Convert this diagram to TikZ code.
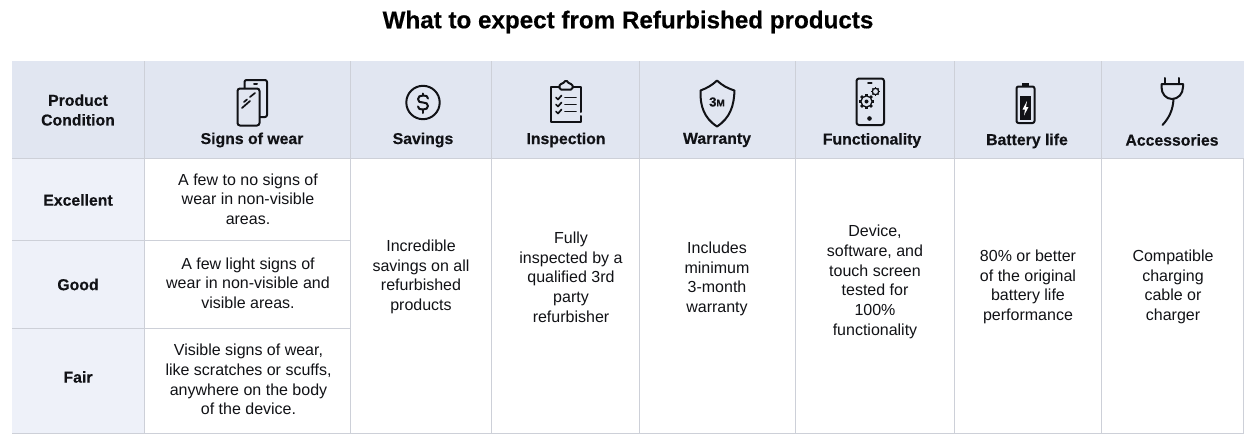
\documentclass[tikz,border=0pt]{standalone}
\usepackage{fontspec}
\setmainfont{Liberation Sans}[BoldFeatures={FakeBold=0.4}]
\usetikzlibrary{arrows.meta}
\definecolor{headblue}{HTML}{E1E6F1}
\definecolor{sideblue}{HTML}{EEF1F9}
\definecolor{gridgray}{HTML}{CDD0D8}
\definecolor{inkblack}{HTML}{111216}
\tikzset{
  gridline/.style={draw=gridgray, line width=1.2pt},
  iconline/.style={draw=inkblack, line width=2pt, line join=round, line cap=round},
  bodytext/.style={align=center, text=inkblack, font=\fontsize{16}{19.7}\selectfont, inner sep=0pt},
  headtext/.style={align=center, text=inkblack, font=\fontsize{15.8}{19.7}\selectfont\bfseries, inner sep=0pt},
  titletext/.style={align=center, text=black, font=\fontsize{24.2}{28}\selectfont\bfseries, inner sep=0pt}
}
\newcommand{\gearicon}[3]{% x, y, radius
  \foreach \a in {0,45,...,315} {
    \draw[inkblack, line width=#3*0.4pt] (#1,#2) ++(\a:#3*0.8) -- ++(\a:#3*0.3);
  }
  \draw[iconline, line width=1.3pt, fill=headblue] (#1,#2) circle (#3*0.8);
}
\begin{document}
\begin{tikzpicture}[x=1pt,y=-1pt]
\useasboundingbox (0,0) rectangle (1256,439);
\fill[white] (0,0) rectangle (1256,439);

\node[titletext] (title) at (628,22) {What to expect from Refurbished products};

% backgrounds
\fill[headblue] (12,61) rectangle (1244,158.5);
\fill[sideblue] (12,158.5) rectangle (144.5,433);

% grid
\draw[gridline] (12,158.5) -- (1244,158.5);
\draw[gridline] (12,240.5) -- (350.5,240.5);
\draw[gridline] (12,328.5) -- (350.5,328.5);
\draw[gridline] (12,433.5) -- (1244,433.5);
\draw[gridline] (144.5,61) -- (144.5,433.5);
\draw[gridline] (350.5,61) -- (350.5,433.5);
\draw[gridline] (491.5,61) -- (491.5,433.5);
\draw[gridline] (639.5,61) -- (639.5,433.5);
\draw[gridline] (795.5,61) -- (795.5,433.5);
\draw[gridline] (954.5,61) -- (954.5,433.5);
\draw[gridline] (1101.5,61) -- (1101.5,433.5);
\draw[gridline] (1243.5,158.5) -- (1243.5,433.5);

% header row
\node[headtext] (condition) at (78,110) {Product\\Condition};
\node[headtext] (wear) at (252,140) {Signs of wear};
\node[headtext] (savings) at (423,140) {Savings};
\node[headtext] (inspection) at (566,140) {Inspection};
\node[headtext] (warranty) at (717,140) {Warranty};
\node[headtext] (functionality) at (872,140.5) {Functionality};
\node[headtext] (battery) at (1027,141) {Battery life};
\node[headtext] (accessories) at (1172,140) {Accessories};

% side column
\node[headtext] (excellent) at (78,200) {Excellent};
\node[headtext] (good) at (78,284.5) {Good};
\node[headtext] (fair) at (78,377) {Fair};

% cells
\node[bodytext] (wearA) at (248,199) {A few to no signs of\\wear in non-visible\\areas.};
\node[bodytext] (wearB) at (248,283) {A few light signs of\\wear in non-visible and\\visible areas.};
\node[bodytext] (wearC) at (248.5,379.5) {Visible signs of wear,\\like scratches or scuffs,\\anywhere on the body\\of the device.};
\node[bodytext] (savingsText) at (421,277) {Incredible\\savings on all\\refurbished\\products};
\node[bodytext] (inspectionText) at (571,277) {Fully\\inspected by a\\qualified 3rd\\party\\refurbisher};
\node[bodytext] (warrantyText) at (717,279) {Includes\\minimum\\3-month\\warranty};
\node[bodytext] (functionalityText) at (875,282) {Device,\\software, and\\touch screen\\tested for\\100\%\\functionality};
\node[bodytext] (batteryText) at (1028,287) {80\% or better\\of the original\\battery life\\performance};
\node[bodytext] (accessoriesText) at (1173,287) {Compatible\\charging\\cable or\\charger};

% phones
\draw[iconline, rounded corners=2pt] (244.5,88) -- (244.5,80) -- (267,80) -- (267,117) -- (260,117);
\draw[iconline] (254,84) -- (257,84);
\draw[iconline, rounded corners=2.5pt] (237.5,88.5) rectangle (259.5,125.5);
\draw[iconline, line width=1.7pt] (250,97) -- (255,93);
\draw[iconline, line width=1.7pt] (244,102) -- (247,99.5);
\draw[iconline, line width=1.7pt] (242,108) -- (250,101);

% dollar
\draw[iconline] (423,102.5) circle (16.7);
\draw[iconline] (428,98.5) .. controls (428,96) and (426,95.5) .. (423,95.5) .. controls (420,95.5) and (418,96.5) .. (418,99) .. controls (418,102) and (420,102.5) .. (423,102.5) .. controls (426,102.5) and (428,103.5) .. (428,106) .. controls (428,108.5) and (426,109.5) .. (423,109.5) .. controls (420,109.5) and (418,109) .. (418,106.5);
\draw[iconline] (423,93.5) -- (423,95.5);
\draw[iconline] (423,109.5) -- (423,113);

% clipboard
\draw[iconline] (559,87) -- (551,87) -- (551,121.5) -- (581,121.5) -- (581,116);
\draw[iconline] (573,87) -- (581,87) -- (581,112);
\draw[iconline, rounded corners=1.5pt] (559.5,89.5) -- (559.5,84) -- (562.5,84) -- (566,80) -- (569.5,84) -- (572.5,84) -- (572.5,89.5) -- cycle;
\draw[iconline, line width=1.7pt] (556,97.5) -- (558,99.5) -- (561.5,95.5);
\draw[iconline, line width=1.7pt] (556,104.5) -- (558,106.5) -- (561.5,102.5);
\draw[iconline, line width=1.7pt] (556,111.5) -- (558,113.5) -- (561.5,109.5);
\draw[iconline, line width=1.7pt] (565,97.5) -- (576,97.5);
\draw[iconline, line width=1.7pt] (565,104.5) -- (576,104.5);
\draw[iconline, line width=1.7pt] (565,111.5) -- (576,111.5);

% shield
\draw[iconline] (717,80.5) .. controls (711,86) and (707,88) .. (700.5,90.5) .. controls (700,106) and (704,118) .. (717,126.5) .. controls (730,118) and (734,106) .. (734.5,90.5) .. controls (727,88) and (723,86) .. (717,80.5) -- cycle;
\node[text=inkblack, font=\fontsize{13}{13}\selectfont\bfseries, inner sep=0pt] (threeM) at (717,102) {3\fontsize{10}{10}\selectfont M};

% gears phone
\draw[iconline, rounded corners=2.5pt] (856.5,78.5) rectangle (884,125);
\draw[iconline] (868,83) -- (871.5,83);
\fill[inkblack] (869.5,118.5) circle (2.3);
\gearicon{875.5}{91.5}{4}
\gearicon{866.5}{101.5}{7}
\fill[inkblack] (866.5,101.5) circle (2);

% battery
\draw[iconline, rounded corners=2pt] (1016.5,86.5) rectangle (1034.5,123);
\fill[inkblack] (1022,82.5) rectangle (1029,86);
\fill[inkblack] (1020,96) rectangle (1031,119.5);
\fill[white] (1027,101) -- (1022.5,109.5) -- (1025,109.5) -- (1024,115.5) -- (1028.5,107) -- (1026,107) -- cycle;

% plug
\draw[iconline] (1164.5,78) -- (1164.5,84);
\draw[iconline] (1179,78) -- (1179,84);
\draw[iconline] (1161.5,84) -- (1183,84) -- (1183,87) .. controls (1183,94) and (1178,99) .. (1172,99) .. controls (1166,99) and (1161.5,94) .. (1161.5,87) -- cycle;
\draw[iconline] (1173.5,99) .. controls (1173,110) and (1169,118) .. (1162.5,125);
\end{tikzpicture}
\end{document}
